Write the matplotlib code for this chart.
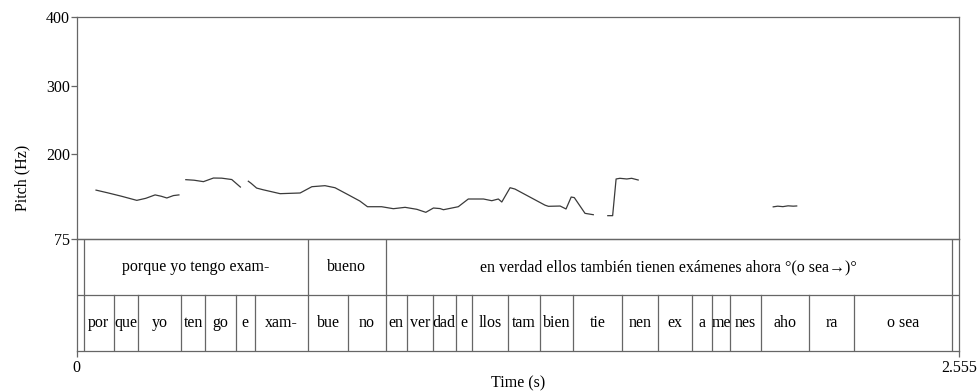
import matplotlib
matplotlib.use('Agg')
import matplotlib.pyplot as plt

plt.rcParams['font.family'] = ['Liberation Serif', 'DejaVu Serif']

T_END = 2.555

# pitch track, one list per voiced stretch (time in s, F0 in Hz)
seg1_t = [0.056, 0.09, 0.13, 0.174, 0.20, 0.227, 0.245, 0.261, 0.28, 0.296]
seg1_hz = [147, 143, 138, 132, 135, 140, 138, 135.5, 139, 140]

seg2_t = [0.316, 0.34, 0.367, 0.396, 0.42, 0.449, 0.474]
seg2_hz = [162.3, 161.5, 159.4, 164.7, 164.5, 162.5, 151.5]

seg3_t = [0.497, 0.505, 0.521, 0.54, 0.589, 0.647, 0.681, 0.719, 0.748, 0.787,
          0.820, 0.842, 0.883, 0.917, 0.951, 0.985, 1.011, 1.033, 1.052, 1.062,
          1.105, 1.134, 1.178, 1.202, 1.221, 1.231, 1.255, 1.269, 1.356, 1.366,
          1.400, 1.417, 1.432, 1.441, 1.472, 1.496]
seg3_hz = [160, 157, 150, 147.5, 141.8, 142.8, 152, 153.5, 150.5, 140,
           131, 122.7, 122.7, 119.8, 121.8, 118.9, 114.5, 120.8, 120, 118.3,
           122.7, 134, 134, 131.5, 134, 129.6, 150.5, 148.6, 125, 123.3,
           123.7, 119.4, 136.9, 136, 113, 111]

seg4_t = [1.538, 1.552, 1.562, 1.573, 1.583, 1.593, 1.607, 1.626]
seg4_hz = [109.6, 109.6, 163.3, 164.3, 163.8, 163.3, 164.3, 161.8]

seg5_t = [2.017, 2.03, 2.045, 2.06, 2.075, 2.085]
seg5_hz = [122.5, 123.5, 122.8, 124, 123.5, 123.8]

segments = [(seg1_t, seg1_hz), (seg2_t, seg2_hz), (seg3_t, seg3_hz),
            (seg4_t, seg4_hz), (seg5_t, seg5_hz)]

# word tier
word_bounds = [0.0211, 0.669, 0.895, 2.534]
word_labels = ['porque yo tengo exam-', 'bueno',
               'en verdad ellos también tienen exámenes ahora °(o sea\u2192)°']

# syllable tier
syl_bounds = [0.0211, 0.107, 0.178, 0.302, 0.372, 0.460, 0.516, 0.669, 0.787,
              0.895, 0.956, 1.031, 1.098, 1.144, 1.250, 1.342, 1.436, 1.580,
              1.684, 1.781, 1.841, 1.892, 1.981, 2.122, 2.252, 2.534]
syl_labels = ['por', 'que', 'yo', 'ten', 'go', 'e', 'xam-', 'bue', 'no',
              'en', 'ver', 'dad', 'e', 'llos', 'tam', 'bien', 'tie', 'nen',
              'ex', 'a', 'me', 'nes', 'aho', 'ra', 'o sea']

pitch_ticks = [75, 200, 300, 400]

FRAME = '#666666'
LW = 0.9
FS = 11.5

fig = plt.figure(figsize=(9.8, 3.92), dpi=100)
W, H = 980.0, 392.0
x0, x1 = 76.7, 959.0
y_top, y_75, y_bot = 17.3, 239.3, 350.5

ax = fig.add_axes([x0 / W, 1 - y_75 / H, (x1 - x0) / W, (y_75 - y_top) / H])
tg = fig.add_axes([x0 / W, 1 - y_bot / H, (x1 - x0) / W, (y_bot - y_75) / H])
tg.set_facecolor('none')

# pitch panel
for t, hz in segments:
    ax.plot(t, hz, color='#3a3a3a', lw=0.9)
ax.set_xlim(0, T_END)
ax.set_ylim(75, 400)
ax.set_yticks(pitch_ticks)
ax.set_yticklabels([str(v) for v in pitch_ticks], fontsize=FS)
ax.tick_params(axis='y', length=4, width=LW, color=FRAME, pad=1)
ax.set_xticks([])
for s in ax.spines.values():
    s.set_color(FRAME)
    s.set_linewidth(LW)

# text grid panel
tg.set_xlim(0, T_END)
tg.set_ylim(0, 2)
tg.set_yticks([])
tg.set_xticks([0, T_END])
tg.set_xticklabels(['0', '2.555'], fontsize=FS)
tg.tick_params(axis='x', length=4, width=LW, color=FRAME, pad=3)
for k in ['top', 'left', 'right', 'bottom']:
    tg.spines[k].set_color(FRAME)
    tg.spines[k].set_linewidth(LW)
tg.axhline(1, color=FRAME, lw=LW)

for b in word_bounds:
    tg.plot([b, b], [1, 2], color=FRAME, lw=LW)
for a, b, lab in zip(word_bounds[:-1], word_bounds[1:], word_labels):
    tg.text((a + b) / 2, 1.5, lab, ha='center', va='center', fontsize=FS)

for b in syl_bounds:
    tg.plot([b, b], [0, 1], color=FRAME, lw=LW)
for a, b, lab in zip(syl_bounds[:-1], syl_bounds[1:], syl_labels):
    tg.text((a + b) / 2, 0.5, lab, ha='center', va='center', fontsize=FS)

fig.text(22 / W, 1 - 178 / H, 'Pitch (Hz)', rotation=90,
         ha='center', va='center', fontsize=FS)
fig.text((x0 + x1) / 2 / W, 1 - 383 / H, 'Time (s)',
         ha='center', va='center', fontsize=FS)

fig.savefig('out.png', dpi=100)
